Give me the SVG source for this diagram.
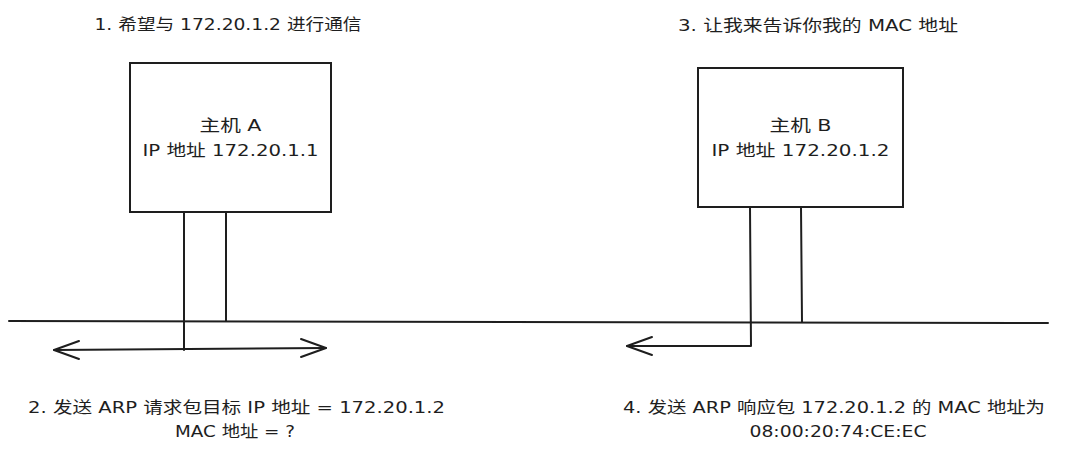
<svg xmlns="http://www.w3.org/2000/svg" width="1079" height="456" viewBox="0 0 1079 456">
<style>
.s{fill:none;stroke:#1e1e1e;stroke-width:2;stroke-linecap:round;stroke-linejoin:round}
.box{fill:#ffffff;stroke:#1e1e1e;stroke-width:2}
text{font-family:"DejaVu Sans","Noto Sans CJK SC",sans-serif;font-size:16px;fill:#1e1e1e;text-anchor:middle}
</style>
<rect width="1079" height="456" fill="#ffffff"/>
<g id="label-1"><text x="228" y="30" textLength="267" lengthAdjust="spacingAndGlyphs">1. 希望与 172.20.1.2 进行通信</text></g>
<g id="label-3"><text x="818" y="31" textLength="280" lengthAdjust="spacingAndGlyphs">3. 让我来告诉你我的 MAC 地址</text></g>
<g id="host-a">
<rect class="box" x="130" y="63" width="201" height="149"/>
<text x="230.5" y="131" textLength="62" lengthAdjust="spacingAndGlyphs">主机 A</text>
<text x="230.5" y="156" textLength="176" lengthAdjust="spacingAndGlyphs">IP 地址 172.20.1.1</text>
</g>
<g id="host-b">
<rect class="box" x="698" y="68" width="205" height="139"/>
<text x="800.5" y="131" textLength="62" lengthAdjust="spacingAndGlyphs">主机 B</text>
<text x="800.5" y="156" textLength="178" lengthAdjust="spacingAndGlyphs">IP 地址 172.20.1.2</text>
</g>
<g id="connectors">
<path class="s" d="M9 321 L1048 323"/>
<path class="s" d="M184 212 L184 350"/>
<path class="s" d="M226 212 L226 321"/>
<path class="s" d="M54 350 L326 348"/>
<path class="s" d="M79 341 L54 350 L79 359"/>
<path class="s" d="M301 339 L326 348 L301 357"/>
<path class="s" d="M750 207 L751 346 L627 346"/>
<path class="s" d="M652 337 L627 346 L652 355"/>
<path class="s" d="M801 207 L802 322"/>
</g>
<g id="label-2">
<text x="236.5" y="413" textLength="417" lengthAdjust="spacingAndGlyphs">2. 发送 ARP 请求包目标 IP 地址 = 172.20.1.2</text>
<text x="235" y="437" textLength="120" lengthAdjust="spacingAndGlyphs">MAC 地址 = ?</text>
</g>
<g id="label-4">
<text x="834" y="413" textLength="422" lengthAdjust="spacingAndGlyphs">4. 发送 ARP 响应包 172.20.1.2 的 MAC 地址为</text>
<text x="838" y="437" textLength="177" lengthAdjust="spacingAndGlyphs">08:00:20:74:CE:EC</text>
</g>
</svg>
